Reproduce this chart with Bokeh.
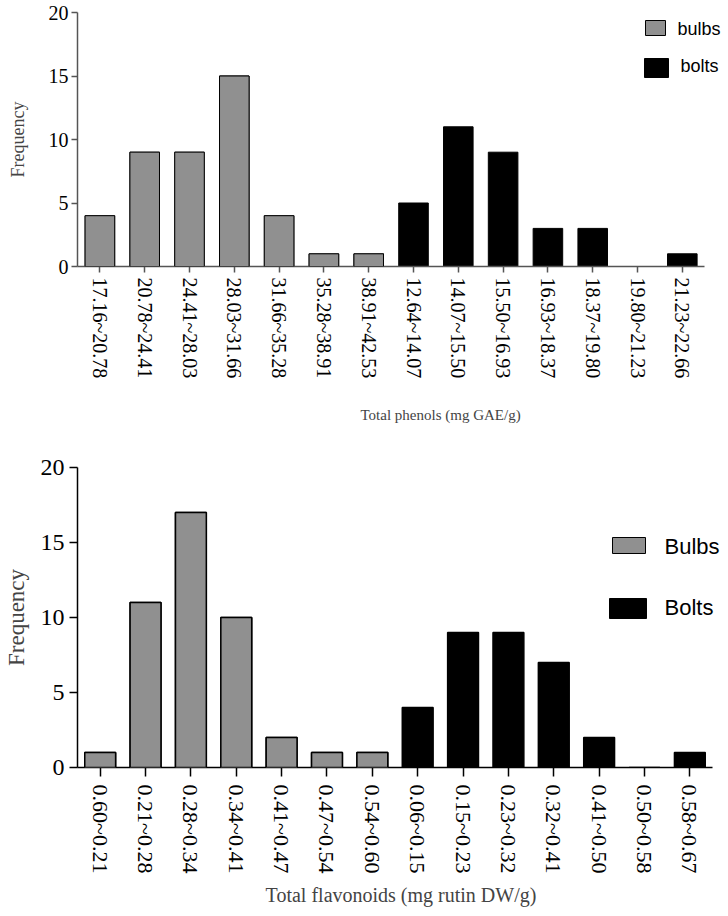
from bokeh.plotting import figure
from bokeh.models import (Range1d, FixedTicker, Title, CanvasTexture, BoxAnnotation, Label,
                          InlineStyleSheet)
from bokeh.layouts import column
from bokeh.embed import file_html
from bokeh.resources import INLINE

# ---------------- data ----------------
phenol_bins = ["17.16~20.78", "20.78~24.41", "24.41~28.03", "28.03~31.66", "31.66~35.28",
               "35.28~38.91", "38.91~42.53", "12.64~14.07", "14.07~15.50", "15.50~16.93",
               "16.93~18.37", "18.37~19.80", "19.80~21.23", "21.23~22.66"]
phenol_bulbs = [4, 9, 9, 15, 4, 1, 1]
phenol_bolts = [5, 11, 9, 3, 3, 0, 1]

flav_bins = ["0.60~0.21", "0.21~0.28", "0.28~0.34", "0.34~0.41", "0.41~0.47", "0.47~0.54",
             "0.54~0.60", "0.06~0.15", "0.15~0.23", "0.23~0.32", "0.32~0.41", "0.41~0.50",
             "0.50~0.58", "0.58~0.67"]
flav_bulbs = [1, 11, 17, 10, 2, 1, 1]
flav_bolts = [4, 9, 9, 7, 2, 0, 1]

y_ticks = [0, 5, 10, 15, 20]

SERIF = "Liberation Serif"
SANS = "Liberation Sans"

CHECKER_JS = """
var h = scale / 2;
ctx.imageSmoothingEnabled = false;
ctx.fillStyle = 'white';
ctx.fillRect(0, 0, scale, scale);
ctx.fillStyle = color;
ctx.fillRect(0, 0, h, h);
ctx.fillRect(h, h, h, h);
"""

CRISP_CSS = "image, pattern image, svg image { image-rendering: pixelated; image-rendering: crisp-edges; }"


def checker():
    return CanvasTexture(code=CHECKER_JS, repetition="repeat")


def checker_box(hs, lw, **coords):
    return BoxAnnotation(fill_color="white", fill_alpha=1, line_color="black",
                         line_alpha=1, line_width=lw,
                         hatch_pattern="checker", hatch_extra={"checker": checker()},
                         hatch_scale=hs, hatch_color="black", hatch_alpha=1, **coords)


def make_fig(bins, bulbs, bolts, height, borders, axis_px, cfg):
    left, right, top, bottom = borders
    width = 728
    n = len(bins)
    frame_w = width - left - right
    x_end = n * frame_w / axis_px          # axis spans axis_px pixels; frame extends past it
    p = figure(width=width, height=height, x_range=Range1d(0, x_end), y_range=Range1d(0, 20),
               output_backend="svg", toolbar_location=None, title_location=None,
               min_border_left=left, min_border_right=right, min_border_top=top,
               min_border_bottom=bottom)
    p.stylesheets = [InlineStyleSheet(css=CRISP_CSS)]
    p.xgrid.visible = False
    p.ygrid.visible = False
    p.outline_line_color = None
    p.background_fill_color = "white"

    bw = cfg["bw"]
    xs_bulbs = [i + 0.5 for i in range(len(bulbs))]
    xs_bolts = [len(bulbs) + i + 0.5 for i in range(len(bolts))]
    p.vbar(x=xs_bulbs, top=bulbs, width=bw, fill_color="white",
           line_color="black", line_width=cfg["blw"])
    p.vbar(x=xs_bolts, top=bolts, width=bw, fill_color="black",
           line_color="black", line_width=cfg["blw"])
    # checkered texture of the bulbs bars (same data, through the plot's scales)
    for xc, h in zip(xs_bulbs, bulbs):
        p.add_layout(checker_box(cfg["hs"], cfg["blw"], left=xc - bw / 2, right=xc + bw / 2,
                                 bottom=0, top=h))

    ax = p.xaxis[0]
    ax.ticker = FixedTicker(ticks=[i + 0.5 for i in range(n)])
    ax.major_label_overrides = {i + 0.5: b for i, b in enumerate(bins)}
    ax.bounds = (0, n)
    ax.major_label_orientation = "vertical"
    ax.major_label_text_font = SERIF
    ax.major_label_text_font_size = cfg["xtick_fs"]
    ax.major_label_text_color = "black"
    ax.major_label_standoff = cfg["xstand"]
    ax.major_tick_out = cfg["tick_out_x"]
    ax.major_tick_in = 0
    ax.minor_tick_out = 0
    ax.minor_tick_in = 0
    ax.axis_line_color = cfg["axis_color"]
    ax.axis_line_width = 1.5
    ax.major_tick_line_color = cfg["axis_color"]
    ax.major_tick_line_width = 1.5

    ay = p.yaxis[0]
    ay.ticker = FixedTicker(ticks=y_ticks)
    ay.major_label_text_font = SERIF
    ay.major_label_text_font_size = cfg["ytick_fs"]
    ay.major_label_text_color = "black"
    ay.major_label_standoff = cfg["ystand"]
    ay.major_tick_out = cfg["tick_out_y"]
    ay.major_tick_in = 0
    ay.minor_tick_out = 0
    ay.minor_tick_in = 0
    ay.axis_line_color = cfg["axis_color"]
    ay.axis_line_width = 1.5
    ay.major_tick_line_color = cfg["axis_color"]
    ay.major_tick_line_width = 1.5
    ay.axis_label = "Frequency"
    ay.axis_label_text_font = SERIF
    ay.axis_label_text_font_style = "normal"
    ay.axis_label_text_font_size = cfg["ylab_fs"]
    ay.axis_label_standoff = cfg["ylab_stand"]

    # legend (swatches + labels, in screen units relative to the plot frame)
    (l1, r1, t1, b1), (l2, r2, t2, b2) = cfg["sw"]
    scr = dict(left_units="screen", right_units="screen", top_units="screen",
               bottom_units="screen")
    p.add_layout(checker_box(cfg["hs"], 1, left=l1, right=r1, top=t1, bottom=b1, **scr))
    p.add_layout(BoxAnnotation(left=l2, right=r2, top=t2, bottom=b2,
                               fill_color="black", fill_alpha=1, line_color="black",
                               line_alpha=1, line_width=1, **scr))
    for name, (lx, ly) in zip(cfg["names"], cfg["lab"]):
        p.add_layout(Label(x=lx, y=ly, x_units="screen", y_units="screen", text=name,
                           text_font=SANS, text_font_size=cfg["leg_fs"], text_color="black",
                           text_align="left", text_baseline="middle"))
    return p


p1 = make_fig(phenol_bins, phenol_bulbs, phenol_bolts, 450, (70, 4, 12, 184), 634,
              dict(bw=0.66, blw=1, hs=4, xtick_fs="20px", ytick_fs="20px", ylab_fs="18px",
                   xstand=5, ystand=3, tick_out_x=6, tick_out_y=6, axis_color="#555555",
                   ylab_stand=18, names=["bulbs", "bolts"],
                   sw=[(568, 588, 246, 231), (567, 591, 208, 189)],
                   lab=[(600, 238), (603, 201)], leg_fs="18px"))
p1.add_layout(Title(text="Total phenols (mg GAE/g)", align="left", offset=283,
                    text_font=SERIF, text_font_style="normal", text_font_size="15px",
                    standoff=46), "below")

p2 = make_fig(flav_bins, flav_bulbs, flav_bolts, 466, (75, 4, 17, 149), 637,
              dict(bw=0.68, blw=1.5, hs=6, xtick_fs="22px", ytick_fs="24px", ylab_fs="23px",
                   xstand=8, ystand=5, tick_out_x=9, tick_out_y=8, axis_color="black",
                   ylab_stand=9, names=["Bulbs", "Bolts"],
                   sw=[(535, 568, 230, 214), (532, 569, 169, 149)],
                   lab=[(587, 221), (587, 160)], leg_fs="22px"))
p2.xaxis[0].axis_label = "Total flavonoids (mg rutin DW/g)"
p2.xaxis[0].axis_label_text_font = SERIF
p2.xaxis[0].axis_label_text_font_style = "normal"
p2.xaxis[0].axis_label_text_font_size = "20px"
p2.xaxis[0].axis_label_standoff = 8

layout = column(p1, p2, spacing=0)
open("out.html", "w").write(file_html(layout, INLINE))
